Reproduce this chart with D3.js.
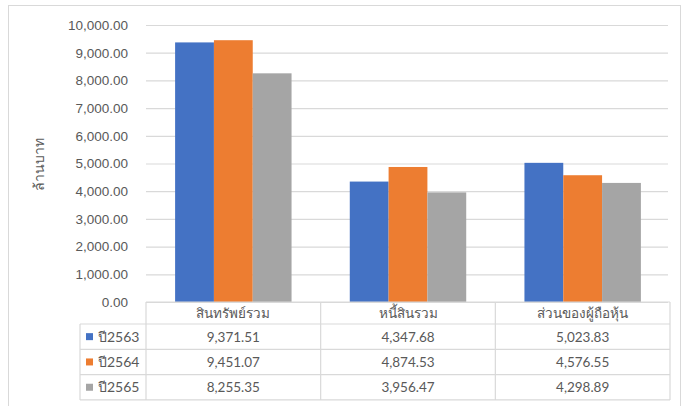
<!DOCTYPE html>
<html>
<head>
<meta charset="utf-8">
<script src="https://cdn.jsdelivr.net/npm/d3@7"></script>
<style>
  html, body { margin: 0; padding: 0; background: #ffffff; }
  svg { display: block; font-family: Lato, "Noto Sans", "DejaVu Sans", sans-serif; }
</style>
</head>
<body>
<svg id="chart" width="681" height="406"></svg>
<script>
// Categories, series and values
const categories = ["สินทรัพย์รวม", "หนี้สินรวม", "ส่วนของผู้ถือหุ้น"];
const seriesNames = ["ปี2563", "ปี2564", "ปี2565"];
const values2563 = [9371.51, 4347.68, 5023.83];
const values2564 = [9451.07, 4874.53, 4576.55];
const values2565 = [8255.35, 3956.47, 4298.89];
const yTicks = [0, 1000, 2000, 3000, 4000, 5000, 6000, 7000, 8000, 9000, 10000];
const yLabel = "ล้านบาท";

const seriesValues = [values2563, values2564, values2565];
const colors = ["#4472C4", "#ED7D31", "#A5A5A5"];

const svg = d3.select("#chart");
const textColor = "#595959";
const lineColor = "#d9d9d9";

// Frame of the chart area
svg.append("rect")
  .attr("x", 8.5).attr("y", 5.5)
  .attr("width", 672).attr("height", 410)
  .attr("fill", "none").attr("stroke", "#d9d9d9");

const plotLeft = 146, plotRight = 670, plotTop = 25, plotBottom = 302;

const x = d3.scaleBand().domain(categories).range([plotLeft, plotRight]).padding(0);
const xs = d3.scaleBand().domain(seriesNames).range([0, x.bandwidth()])
  .paddingInner(0).paddingOuter(0.75);
const y = d3.scaleLinear().domain([0, 10000]).range([plotBottom, plotTop]);

// Value axis with gridlines
const yAxis = svg.append("g")
  .attr("transform", `translate(${plotLeft},0)`)
  .call(d3.axisLeft(y).tickValues(yTicks)
    .tickFormat(d3.format(",.2f"))
    .tickSizeInner(-(plotRight - 2 - plotLeft)).tickSizeOuter(0).tickPadding(18));
yAxis.select(".domain").remove();
yAxis.selectAll(".tick line").attr("stroke", lineColor).attr("stroke-width", 1.2);
yAxis.selectAll(".tick text")
  .attr("fill", textColor).attr("font-size", 13.5);

// Axis title
svg.append("text")
  .attr("transform", `translate(44,164) rotate(-90)`)
  .attr("text-anchor", "middle")
  .attr("fill", textColor).attr("font-size", 14)
  .text(yLabel);

// Bars
const groups = svg.append("g").selectAll("g")
  .data(categories)
  .join("g")
  .attr("transform", d => `translate(${x(d)},0)`);

groups.selectAll("rect")
  .data((d, i) => seriesNames.map((s, j) => ({ s, j, v: seriesValues[j][i] })))
  .join("rect")
  .attr("x", d => xs(d.s))
  .attr("width", xs.bandwidth())
  .attr("y", d => y(d.v))
  .attr("height", d => y(0) - y(d.v))
  .attr("fill", d => colors[d.j]);

// Data table below the plot
const headerTop = 302, headerH = 22, rowH = 25.3;
const tableLeft = 80;
const table = svg.append("g");
const tableBottom = headerTop + headerH + rowH * seriesNames.length;

// horizontal lines
table.append("line")
  .attr("x1", plotLeft).attr("x2", plotRight)
  .attr("y1", headerTop).attr("y2", headerTop);
seriesNames.forEach((s, j) => {
  table.append("line")
    .attr("x1", tableLeft).attr("x2", plotRight)
    .attr("y1", headerTop + headerH + rowH * j).attr("y2", headerTop + headerH + rowH * j);
});
table.append("line")
  .attr("x1", tableLeft).attr("x2", plotRight)
  .attr("y1", tableBottom).attr("y2", tableBottom);
// vertical lines
table.append("line")
  .attr("x1", tableLeft).attr("x2", tableLeft)
  .attr("y1", headerTop + headerH).attr("y2", tableBottom);
categories.forEach(c => {
  table.append("line")
    .attr("x1", x(c)).attr("x2", x(c))
    .attr("y1", headerTop).attr("y2", tableBottom);
});
table.append("line")
  .attr("x1", plotRight).attr("x2", plotRight)
  .attr("y1", headerTop).attr("y2", tableBottom);
table.selectAll("line").attr("stroke", lineColor).attr("stroke-width", 1.2);

// header labels
table.selectAll("text.cat")
  .data(categories)
  .join("text")
  .attr("class", "cat")
  .attr("x", d => x(d) + x.bandwidth() / 2)
  .attr("y", headerTop + headerH / 2 + 5)
  .attr("text-anchor", "middle")
  .attr("fill", textColor).attr("font-size", 13.5)
  .text(d => d);

// series rows: legend key, name, values
const fmt = d3.format(",.2f");
seriesNames.forEach((s, j) => {
  const cy = headerTop + headerH + rowH * j + rowH / 2;
  table.append("rect")
    .attr("x", 86).attr("y", cy - 3.5)
    .attr("width", 7).attr("height", 7)
    .attr("fill", colors[j]);
  table.append("text")
    .attr("x", 98).attr("y", cy + 5)
    .attr("fill", textColor).attr("font-size", 14)
    .text(s);
  categories.forEach((c, i) => {
    table.append("text")
      .attr("x", x(c) + x.bandwidth() / 2)
      .attr("y", cy + 5)
      .attr("text-anchor", "middle")
      .attr("fill", textColor).attr("font-size", 13.5)
      .text(fmt(seriesValues[j][i]));
  });
});
</script>
</body>
</html>
